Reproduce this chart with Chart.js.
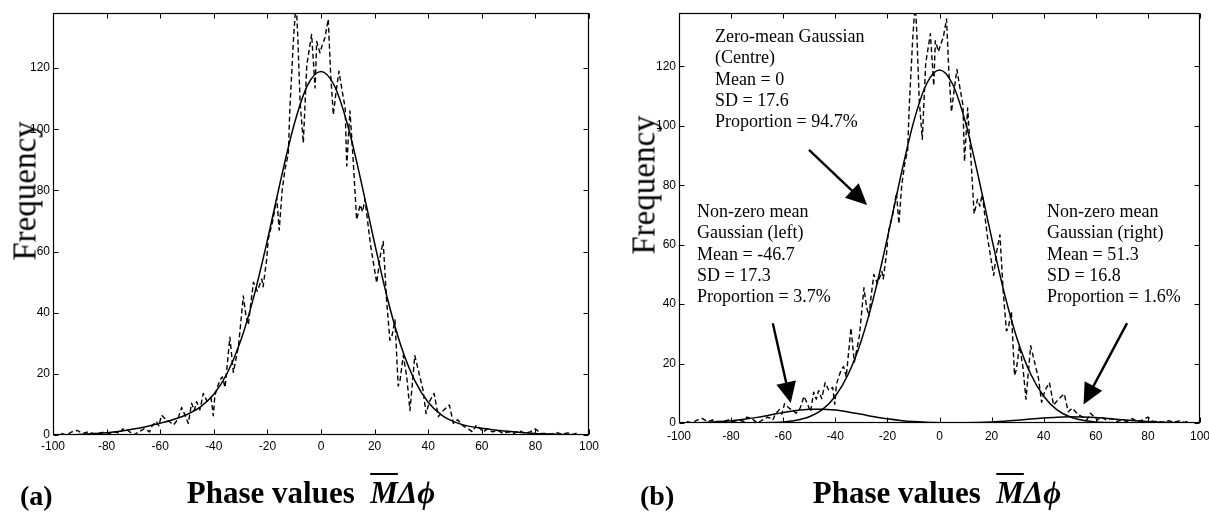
<!DOCTYPE html>
<html><head><meta charset="utf-8">
<script src="https://cdn.jsdelivr.net/npm/chart.js@4"></script>
<style>
html,body{margin:0;padding:0;background:#fff;overflow:hidden;width:1209px;height:512px;}
canvas{position:absolute;top:0;}
.t{position:absolute;font-family:'Liberation Serif','Times New Roman',serif;color:#000;white-space:nowrap;line-height:1;}
.ylab{font-size:33px;transform:translate(-50%,-50%) rotate(-90deg);}
.xlab{font-size:31px;font-weight:bold;transform:translateX(-50%);}
.pl{font-size:28px;font-weight:bold;}
.ann{font-size:18px;line-height:21.3px;}
.mb{font-style:italic;text-decoration:overline;text-decoration-thickness:2px;}
.it{font-style:italic;}
</style></head><body>
<canvas id="ca" width="600" height="512" style="left:0"></canvas>
<canvas id="cb" width="609" height="512" style="left:600px"></canvas>

<div class="t ylab" style="left:25px;top:191px">Frequency</div>
<div class="t ylab" style="left:644px;top:185px">Frequency</div>
<div class="t pl" style="left:20px;top:482px">(a)</div>
<div class="t pl" style="left:640px;top:482px">(b)</div>
<div class="t xlab" style="left:311px;top:477px">Phase values&nbsp; <span class="mb">M</span><span class="it">&Delta;&#x3D5;</span></div>
<div class="t xlab" style="left:937px;top:477px">Phase values&nbsp; <span class="mb">M</span><span class="it">&Delta;&#x3D5;</span></div>

<div class="t ann" style="left:715px;top:26px">Zero-mean Gaussian<br>(Centre)<br>Mean = 0<br>SD = 17.6<br>Proportion = 94.7%</div>
<div class="t ann" style="left:697px;top:201px">Non-zero mean<br>Gaussian (left)<br>Mean = -46.7<br>SD = 17.3<br>Proportion = 3.7%</div>
<div class="t ann" style="left:1047px;top:201px">Non-zero mean<br>Gaussian (right)<br>Mean = 51.3<br>SD = 16.8<br>Proportion = 1.6%</div>

<script>
// ---- tick labels ----
const xTicks = [-100,-80,-60,-40,-20,0,20,40,60,80,100];
const yTicks = [0,20,40,60,80,100,120];

const histPhase = [
 -97,-95,-93,-91,-89,-87,-85,-83,-81,-79,
 -77,-75,-74,-72,-70,-68,-66,-65,-64,-63,
 -61.5,-60.5,-59.5,-57.6,-56,-55,-53.5,-52,-50.5,-49.5,
 -48.3,-47.3,-46.4,-45.2,-43.9,-42.5,-41,-40.2,-39.6,-38.5,
 -37.7,-36.8,-35.8,-34,-32.7,-30.8,-29.8,-29,-28,-27.1,
 -26.2,-25.2,-23.8,-22.1,-21.6,-20.3,-19.7,-18,-16.5,-15.6,
 -14.5,-13.4,-12.2,-11.6,-10.3,-9.3,-8.7,-7.8,-6.6,-5.3,
 -3.5,-2.2,-1.6,-0.4,0.3,1.5,2.7,3.6,4.6,5.6,
 6.7,7.8,9,9.6,10.8,12,13.3,14.6,15.5,16.4,
 18.5,20.8,22,23.2,24.5,25.7,26.4,27.6,28.8,29.5,
 30.7,32,33.2,35,36.9,38,39.2,40.5,42.2,43.8,
 45.6,47.9,49.4,51,53,55,56.5,58,60.6,62,
 64,66,68,70,72,74,76,78,80,82,
 84,86,88,90,92,94,96];
const histFreq = [
 0.5,0,1,1.5,0.5,1,0.5,0.5,1,0.5,
 1,0.5,2,1.5,0,1,2,1.6,1,3,
 4.5,3,6.5,4.9,4,3.3,5,9,6,3.8,
 10.4,8,10.9,8.2,13.6,11,12,6.3,12.9,16,
 18,19,15.5,32,20.5,29,38,45.5,39,36,
 43,50,47,51,48.5,57.2,64,70,77.5,67,
 80,87,92,107,129,142,131,109,95.5,121,
 131,113.5,128.7,125,127,130,136,118,104.7,112,
 119,113,107,88,106,90,70.4,75.3,73,77,
 62,49.7,58,63.3,43.7,31,32,37.6,16,18,
 26,19,8,26,19,15,7,11,13.6,6,
 8,9.8,3.8,5,3,2,1,3.3,1,2,
 1,1.5,0.5,1,0.5,1.5,0.5,1,2,0.5,
 0.5,0.3,0.8,0.3,0.7,0.2,0.8];

// ---- fitted curves (solid lines) ----
const fitPhase = [-100,-95,-90,-85,-80,-75,-70,-65,-60,-55,-50,-45,-40,-35,-30,-25,-20,-15,-10,-5,0,
                  5,10,15,20,25,30,35,40,45,50,55,60,65,70,75,80,85,90,95,100];
const fitMixture = [0.04,0.1,0.2,0.4,0.74,1.24,1.94,2.81,3.85,5.08,6.71,9.19,13.3,20.2,30.7,45.5,63.7,83.5,101.6,114.4,118.9,
                    114.2,101.2,82.8,62.7,43.9,28.7,17.8,10.7,6.5,4.2,2.9,2.2,1.6,1.2,0.8,0.5,0.3,0.15,0.07,0.03];
const fitCentre = [0,0,0,0,0,0.01,0.04,0.13,0.36,0.9,2.1,4.5,9.0,16.5,27.8,43.3,62.3,82.6,101.1,114.1,118.8,
                   114.1,101.1,82.6,62.3,43.3,27.8,16.5,9.0,4.5,2.1,0.9,0.36,0.13,0.04,0.01,0,0,0,0,0];
const leftPhase = [-100,-95,-90,-85,-80,-75,-70,-65,-60,-55,-50,-45,-40,-35,-30,-25,-20,-15,-10,-5,0];
const fitLeft = [0.04,0.1,0.2,0.4,0.74,1.23,1.89,2.68,3.49,4.18,4.61,4.67,4.35,3.73,2.94,2.14,1.43,0.88,0.49,0.26,0.12];
const rightPhase = [0,5,10,15,20,25,30,35,40,45,50,55,60,65,70,75,80,85,90,95,100];
const fitRight = [0.02,0.05,0.1,0.2,0.37,0.61,0.94,1.31,1.67,1.95,2.08,2.04,1.83,1.5,1.12,0.77,0.49,0.28,0.15,0.07,0.03];

// ---- arrows in panel (b), data coordinates ----
const arrowTailX = [-50.1, -64, 72];
const arrowTailY = [91.9, 33.6, 33.6];
const arrowTipX  = [-27.8, -57.1, 55.3];
const arrowTipY  = [73.4, 6.7, 6.2];

function pts(xs, ys){ const n=Math.min(xs.length, ys.length); const o=[]; for(let i=0;i<n;i++) o.push({x:xs[i], y:ys[i]}); return o; }

const tickFont = {family:"'Liberation Sans', Arial, sans-serif", size:12};

const framePlugin = {
  id:'frame',
  afterDatasetsDraw(chart){
    const {ctx, chartArea:a, scales:{x, y}} = chart;
    ctx.save();
    ctx.strokeStyle='#000'; ctx.lineWidth=1.2;
    const L=Math.round(a.left)+0.5, R=Math.round(a.right)-0.5, T=Math.round(a.top)+0.5, B=Math.round(a.bottom)-0.5;
    ctx.strokeRect(L, T, R-L, B-T);
    ctx.lineWidth=1;
    ctx.beginPath();
    x.ticks.forEach(t=>{ const p=Math.round(x.getPixelForValue(t.value))+0.5;
      ctx.moveTo(p,B); ctx.lineTo(p,B-5); ctx.moveTo(p,T); ctx.lineTo(p,T+5); });
    y.ticks.forEach(t=>{ const p=Math.round(y.getPixelForValue(t.value))+0.5;
      ctx.moveTo(L,p); ctx.lineTo(L+5,p); ctx.moveTo(R,p); ctx.lineTo(R-5,p); });
    ctx.stroke();
    ctx.restore();
  }
};

const arrowPlugin = {
  id:'arrows',
  afterDatasetsDraw(chart){
    const {ctx, scales:{x, y}} = chart;
    ctx.save();
    ctx.fillStyle='#000'; ctx.strokeStyle='#000'; ctx.lineWidth=2.4;
    for(let i=0;i<arrowTailX.length;i++){
      const x0=x.getPixelForValue(arrowTailX[i]), y0=y.getPixelForValue(arrowTailY[i]);
      const x1=x.getPixelForValue(arrowTipX[i]), y1=y.getPixelForValue(arrowTipY[i]);
      const dx=x1-x0, dy=y1-y0, len=Math.hypot(dx,dy), ux=dx/len, uy=dy/len;
      const hl=21, hw=10;
      const bx=x1-ux*hl, by=y1-uy*hl;
      ctx.beginPath(); ctx.moveTo(x0,y0); ctx.lineTo(bx+ux*2,by+uy*2); ctx.stroke();
      ctx.beginPath(); ctx.moveTo(x1,y1);
      ctx.lineTo(bx-uy*hw, by+ux*hw); ctx.lineTo(bx+uy*hw, by-ux*hw); ctx.closePath(); ctx.fill();
    }
    ctx.restore();
  }
};

function makeOptions(cfg){
  return {
    responsive:false, animation:false, devicePixelRatio:1,
    layout:{padding:cfg.padding},
    plugins:{legend:{display:false}, tooltip:{enabled:false}},
    elements:{point:{radius:0}},
    scales:{
      x:{type:'linear', min:-100, max:100,
         grid:{display:false, drawTicks:false}, border:{display:false},
         afterBuildTicks:s=>{ s.ticks = xTicks.map(v=>({value:v})); },
         afterFit:s=>{ s.height = 20; s.paddingLeft = 0; s.paddingRight = 0; },
         ticks:{padding:cfg.xPad, color:'#000', font:tickFont, maxRotation:0, autoSkip:false, callback:v=>String(v)}},
      y:{type:'linear', min:0, max:138,
         grid:{display:false, drawTicks:false}, border:{display:false},
         afterBuildTicks:s=>{ s.ticks = yTicks.map(v=>({value:v})); },
         afterFit:s=>{ s.width = cfg.yWidth; s.paddingTop = 0; s.paddingBottom = 0; },
         ticks:{padding:3, color:'#000', font:tickFont, autoSkip:false, callback:v=>String(v)}}
    }
  };
}

const dashed = d=>({data:d, borderColor:'#000', borderWidth:1.4, borderDash:[5,3], tension:0, pointRadius:0, borderJoinStyle:'round', fill:false});
const solid = d=>({data:d, borderColor:'#000', borderWidth:1.5, cubicInterpolationMode:'monotone', pointRadius:0, fill:false});

new Chart(document.getElementById('ca'), {
  type:'line',
  data:{datasets:[dashed(pts(histPhase,histFreq)), solid(pts(fitPhase,fitMixture))]},
  options:makeOptions({padding:{left:0,right:11,top:13,bottom:57}, xPad:4, yWidth:53}),
  plugins:[framePlugin]
});

new Chart(document.getElementById('cb'), {
  type:'line',
  data:{datasets:[dashed(pts(histPhase,histFreq)), solid(pts(fitPhase,fitCentre)), solid(pts(leftPhase,fitLeft)), solid(pts(rightPhase,fitRight))]},
  options:makeOptions({padding:{left:0,right:9,top:13,bottom:69}, xPad:6, yWidth:79}),
  plugins:[framePlugin, arrowPlugin]
});
</script>
</body></html>
